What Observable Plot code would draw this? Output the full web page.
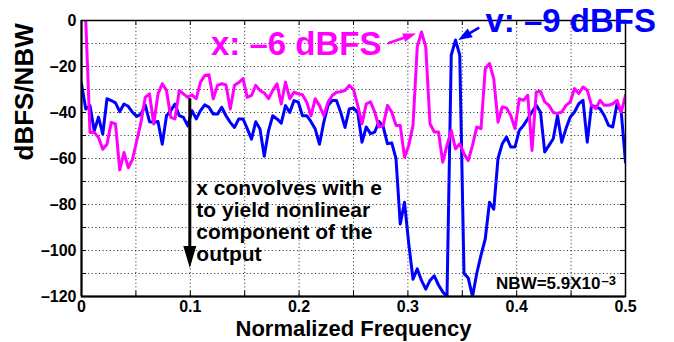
<!DOCTYPE html>
<html><head><meta charset="utf-8">
<script src="https://cdn.jsdelivr.net/npm/d3@7"></script>
<script src="https://cdn.jsdelivr.net/npm/@observablehq/plot@0.6"></script>
<style>body{margin:0;background:#fff} svg{display:block}</style>
</head><body><div id="chart"></div>
<script>
// FFT bins (NFFT = 256, 0 .. 0.5)
const NFFT = 256;
const vLevels = [-27.5,-38.5,-37,-48,-42,-49.4,-34,-34.8,-35.8,-39.6,-36.3,-37.3,-39.9,-41.7,-40.7,-36.7,-44,-44.3,-43.9,-53.8,
-41.4,-39.2,-36.3,-41.4,-42.1,-45.8,-39.2,-42.8,-39.2,-36.7,-37.7,-40.7,-40.7,-37.7,-41.4,-44.3,-46.5,-42.8,-42.8,-47,
-51.6,-44,-47.2,-59,-48,-41.4,-42.8,-44.6,-37,-40,-34.8,-35.5,-41.4,-41.4,-44,-47.2,-53.8,-44.3,-37,-34.8,
-34.8,-40,-46.5,-38.5,-38,-40,-52.9,-46.3,-49.2,-48.5,-43.9,-46.3,-53.6,-53.2,-60.1,-88.5,-79,-97,-112.5,-108,
-113,-116.8,-113,-111,-115,-118,-120,-15,-8.5,-15,-110,-112,-120,-110,-102,-95,-79,-82,-60,-53.6,
-50.7,-55,-55,-47.8,-45.6,-42.7,-39.8,-36.9,-39.8,-57.2,-54.3,-51.4,-41.3,-52.9,-47,-42,-39.8,-36.2,-34.7,-52.9,
-36.9,-37.6,-38.3,-41.3,-45.6,-46.3,-36.2,-39.8,-61.6];
const xLevels = [8,0,-48.7,-48.7,-50.9,-56,-53.8,-44.3,-45,-65,-57.4,-64,-60.4,-52.3,-44.3,-33.4,-31.9,-45,-31.9,-27.5,
-30.4,-42.1,-42.8,-30.4,-31.9,-33.4,-32.3,-34,-26.8,-23.9,-23.6,-34,-28.2,-27.5,-28,-38.5,-28.2,-27,-25.3,-33.4,
-32.6,-28.2,-30.4,-31.5,-34,-30.4,-27.5,-36.3,-26.8,-34,-31.2,-31.9,-32.3,-35.5,-41.4,-34,-37,-41.4,-35.5,-32.6,
-31.2,-31,-30.4,-28.2,-30,-36.9,-44.9,-36.2,-35.4,-39.8,-46.3,-45.6,-36.9,-39.8,-45.6,-45.6,-59.4,-54.3,-45.6,-11.5,
-5,-11.5,-44.9,-48.5,-48.5,-61.6,-54.3,-47.8,-55.8,-53.6,-58,-60.9,-54.3,-46.3,-47,-21,-18.7,-25.3,-44.2,-37.6,
-38,-41.3,-47,-34,-34.7,-32.5,-56.5,-31.1,-30.8,-35.4,-36.9,-40,-40.4,-39.8,-36.9,-35.4,-29.6,-31.8,-28.9,-30.3,
-36.9,-38.3,-34.7,-36.9,-36.9,-36.2,-34.7,-39.8,-32.5];

const xTicks = [0, 0.1, 0.2, 0.3, 0.4, 0.5];
const yTicks = [0, -20, -40, -60, -80, -100, -120];
const xGridLines = [0.05, 0.1, 0.15, 0.2, 0.25, 0.3, 0.35, 0.4, 0.45];
const yGridLines = [-10, -20, -30, -40, -50, -60, -70, -80, -90, -100, -110];
const xMinor = [0, 0.05, 0.1, 0.15, 0.2, 0.25, 0.3, 0.35, 0.4, 0.45, 0.5];
const yMinor = [0, -10, -20, -30, -40, -50, -60, -70, -80, -90, -100, -110, -120];

const xLabelText = "Normalized Frequency";
const yLabelText = "dBFS/NBW";
const noteLines = "x convolves with e\nto yield nonlinear\ncomponent of the\noutput";
const nbwText = "NBW=5.9X10";
const nbwExp = "–3";

// annotations (data coordinates)
const xNote = {label: "x: –6 dBFS", f: 0.2757, db: -15.2};
const vNote = {label: "v: –9 dBFS", f: 0.3713, db: -5.2};
const noteAnchor = {f: 0.1, db: -104.35};
const arrows = [
  {x1: 0.1, y1: -34, x2: 0.1, y2: -107.8, color: "black"},
  {x1: 0.2822, y1: -10.1, x2: 0.3079, y2: -5.9, color: "#ff00ff"},
  {x1: 0.3660, y1: -3.3, x2: 0.3466, y2: -8.7, color: "#0000ff"}
];
const arrowStyle = [
  {w: 3, len: 22, hw: 13},
  {w: 2.5, len: 13, hw: 9},
  {w: 2.5, len: 14, hw: 10}
];

const bins = d3.range(vLevels.length);
const vData = bins.map(k => ({f: k / NFFT, db: vLevels[k]}));
const xData = bins.map(k => ({f: k / NFFT, db: xLevels[k]}));

const H = 342, W = 674, mT = 20, mB = 46, mL = 81, mR = 49;
const ph = H - mT - mB, pw = W - mL - mR;
const font = "'Liberation Sans', Arial, Helvetica, sans-serif";
const fmtY = d => d === 0 ? "0" : "–" + Math.abs(d);
const fmtX = d => d === 0 ? "0" : String(d);

const plot = Plot.plot({
  width: W, height: H,
  marginTop: mT, marginBottom: mB, marginLeft: mL, marginRight: mR,
  x: {domain: [0, 0.5]},
  y: {domain: [-120, 0]},
  style: {fontFamily: font, background: "white", color: "black"},
  marks: [
    Plot.ruleX(xGridLines, {stroke: "black", strokeWidth: 1, strokeDasharray: "1,2.6", strokeOpacity: 0.85}),
    Plot.ruleY(yGridLines, {stroke: "black", strokeWidth: 1, strokeDasharray: "1,2.6", strokeOpacity: 0.85}),
    Plot.ruleX(xMinor, {stroke: "black", strokeWidth: 1, insetTop: ph - 5}),
    Plot.ruleX(xMinor, {stroke: "black", strokeWidth: 1, insetBottom: ph - 5}),
    Plot.ruleY(yMinor, {stroke: "black", strokeWidth: 1, insetRight: pw - 5}),
    Plot.ruleY(yMinor, {stroke: "black", strokeWidth: 1, insetLeft: pw - 5}),
    Plot.line(vData, {x: "f", y: "db", stroke: "#0000ff", strokeWidth: 3, strokeLinejoin: "round", clip: true}),
    Plot.line(xData, {x: "f", y: "db", stroke: "#ff00ff", strokeWidth: 3, strokeLinejoin: "round", clip: true}),
    Plot.frame({stroke: "black", strokeWidth: 1.5}),
    Plot.ruleX([0], {stroke: "black", strokeWidth: 2}),
    Plot.ruleY([-120], {stroke: "black", strokeWidth: 2}),
    Plot.axisX(xTicks, {tickSize: 0, tickPadding: 4, fontSize: 16, fontWeight: "bold", tickFormat: fmtX, label: null}),
    Plot.axisY(yTicks, {tickSize: 0, tickPadding: 5, fontSize: 16, fontWeight: "bold", tickFormat: fmtY, label: null}),
    Plot.text([xLabelText], {frameAnchor: "bottom", dy: 39, lineAnchor: "bottom", fontSize: 22, fontWeight: "bold"}),
    Plot.text([yLabelText], {frameAnchor: "left", rotate: -90, dx: -49, dy: 2, lineAnchor: "bottom", fontSize: 26, fontWeight: "bold"}),
    Plot.text([xNote], {x: "f", y: "db", text: "label", fill: "#ff00ff", textAnchor: "end", lineAnchor: "bottom", fontSize: 33, fontWeight: "bold"}),
    Plot.text([vNote], {x: "f", y: "db", text: "label", fill: "#0000ff", textAnchor: "start", lineAnchor: "bottom", fontSize: 33, fontWeight: "bold"}),
    Plot.text([noteLines], {x: () => noteAnchor.f, y: () => noteAnchor.db, dx: 6, textAnchor: "start", lineAnchor: "bottom", lineHeight: 1.04, fontSize: 21, fontWeight: "bold", fill: "black"}),
    Plot.text([nbwText], {frameAnchor: "bottom-right", textAnchor: "end", lineAnchor: "bottom", dx: -25, dy: -8, fontSize: 17, fontWeight: "bold"}),
    Plot.text([nbwExp], {frameAnchor: "bottom-right", textAnchor: "start", lineAnchor: "bottom", dx: -24, dy: -12, fontSize: 13, fontWeight: "bold"})
  ]
});

{
  const sx = plot.scale("x"), sy = plot.scale("y");
  const g = d3.select(plot).append("g");
  arrows.forEach((a, i) => {
    const st = arrowStyle[i];
    const x1 = sx.apply(a.x1), y1 = sy.apply(a.y1), x2 = sx.apply(a.x2), y2 = sy.apply(a.y2);
    const dx = x2 - x1, dy = y2 - y1, L = Math.hypot(dx, dy);
    const ux = dx / L, uy = dy / L, nx = -uy, ny = ux;
    const bx = x2 - ux * st.len, by = y2 - uy * st.len;
    g.append("line").attr("x1", x1).attr("y1", y1).attr("x2", bx + ux).attr("y2", by + uy)
      .attr("stroke", a.color).attr("stroke-width", st.w);
    g.append("polygon").attr("points", [[x2, y2], [bx + nx * st.hw / 2, by + ny * st.hw / 2], [bx - nx * st.hw / 2, by - ny * st.hw / 2]].map(p => p.join(",")).join(" "))
      .attr("fill", a.color);
  });
}
document.getElementById("chart").appendChild(plot);
</script>
</body></html>
